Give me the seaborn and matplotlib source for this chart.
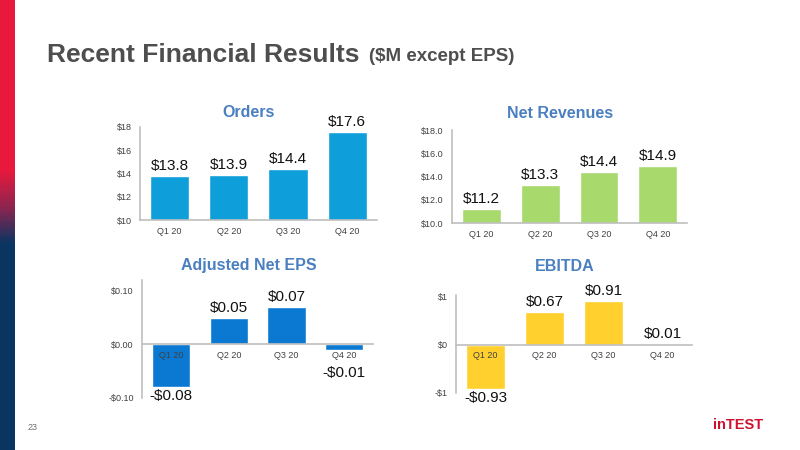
import numpy as np
import pandas as pd
import matplotlib
matplotlib.use('Agg')
import matplotlib.pyplot as plt
from matplotlib.colors import LinearSegmentedColormap
import seaborn as sns

# Chart data
quarters = ['Q1 20', 'Q2 20', 'Q3 20', 'Q4 20']
orders = [13.8, 13.9, 14.4, 17.6]
net_revenues = [11.2, 13.3, 14.4, 14.9]
adj_eps = [-0.08, 0.05, 0.07, -0.01]
ebitda = [-0.93, 0.67, 0.91, 0.01]

orders_labels = ['$13.8', '$13.9', '$14.4', '$17.6']
revenue_labels = ['$11.2', '$13.3', '$14.4', '$14.9']
eps_labels = ['-$0.08', '$0.05', '$0.07', '-$0.01']
ebitda_labels = ['-$0.93', '$0.67', '$0.91', '$0.01']

sns.set_style('white')
plt.rcParams['font.family'] = ['Liberation Sans', 'DejaVu Sans']

fig = plt.figure(figsize=(8, 4.5), dpi=100)

# left colour stripe (red -> navy)
stripe = fig.add_axes([0, 0, 0.0184, 1])
cmap = LinearSegmentedColormap.from_list(
    'stripe', [(0, '#E8193C'), (0.378, '#E8193C'), (0.46, '#8E2550'),
               (0.54, '#0B3561'), (1, '#0B3561')])
stripe.imshow(np.linspace(0, 1, 450).reshape(-1, 1), aspect='auto', cmap=cmap,
              extent=[0, 1, 0, 1])
stripe.axis('off')

fig.text(0.059, 0.877, 'Recent Financial Results', fontsize=19, fontweight='bold',
         color='#4E4E4E', va='center', ha='left')
fig.text(0.461, 0.874, '($M except EPS)', fontsize=13.5, fontweight='bold',
         color='#4E4E4E', va='center', ha='left')
fig.text(0.041, 0.049, '23', fontsize=6.5, color='#707070', va='center', ha='center')
fig.text(0.922, 0.055, 'inTEST', fontsize=10.5, fontweight='bold', color='#CF1130',
         va='center', ha='center')

title_color = '#4A7FC0'


def draw_panel(rect, values, labels, color, title, ylim, ticks, ticklabels, title_y):
    ax = fig.add_axes(rect)
    df = pd.DataFrame({'quarter': quarters, 'value': values})
    sns.barplot(data=df, x='quarter', y='value', color=color, saturation=1,
                width=0.66, ax=ax)
    ax.set_ylim(*ylim)
    ax.set_xlim(-0.5, 3.5)
    ax.set_yticks(ticks)
    ax.set_yticklabels(ticklabels)
    ax.set_xlabel('')
    ax.set_ylabel('')
    for s in ['top', 'right']:
        ax.spines[s].set_visible(False)
    for s in ['left', 'bottom']:
        ax.spines[s].set_color('#BFBFBF')
        ax.spines[s].set_linewidth(1.2)
    if ylim[0] < 0:
        ax.spines['bottom'].set_position(('data', 0))
    ax.xaxis.set_zorder(5)
    ax.tick_params(axis='both', length=0, labelsize=6.5, labelcolor='#404040')
    ax.tick_params(axis='x', pad=5)
    ax.tick_params(axis='y', pad=6)
    span = ylim[1] - ylim[0]
    for patch, v, lab in zip(ax.patches, values, labels):
        x = patch.get_x() + patch.get_width() / 2
        if v >= 0:
            ax.annotate(lab, (x, v), xytext=(0, 2), textcoords='offset points',
                        ha='center', va='bottom', fontsize=11, color='#111111')
        else:
            pad = 12 if abs(v) < 0.15 * span else 1
            ax.annotate(lab, (x, v), xytext=(0, -pad), textcoords='offset points',
                        ha='center', va='top', fontsize=11, color='#111111')
    fig.text(rect[0] + rect[2] * 0.46, title_y, title, fontsize=11.5,
             fontweight='bold', color=title_color, ha='center', va='center')
    return ax


draw_panel([0.175, 0.511, 0.296, 0.207], orders, orders_labels, '#0E9FDA', 'Orders',
           (10, 18), [10, 12, 14, 16, 18], ['$10', '$12', '$14', '$16', '$18'], 0.751)
draw_panel([0.565, 0.504, 0.294, 0.207], net_revenues, revenue_labels, '#A8D96C',
           'Net Revenues', (10, 18), [10, 12, 14, 16, 18],
           ['$10.0', '$12.0', '$14.0', '$16.0', '$18.0'], 0.747)
draw_panel([0.1775, 0.1156, 0.289, 0.262], adj_eps, eps_labels, '#0B78D1',
           'Adjusted Net EPS', (-0.10, 0.12), [-0.10, 0.0, 0.10],
           ['-$0.10', '$0.00', '$0.10'], 0.411)
draw_panel([0.57, 0.127, 0.295, 0.218], ebitda, ebitda_labels, '#FFD02E', 'EBITDA',
           (-1, 1.03), [-1, 0, 1], ['-$1', '$0', '$1'], 0.407)

fig.savefig('out.png', dpi=100)
